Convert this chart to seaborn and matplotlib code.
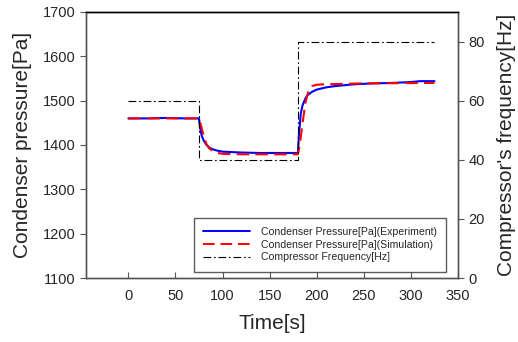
import numpy as np
import pandas as pd
import matplotlib
matplotlib.use("Agg")
import matplotlib.pyplot as plt
import seaborn as sns
from matplotlib.lines import Line2D

# ---- data ----
exp_time = [0, 20, 40, 60, 75, 76, 78, 80, 83, 86, 90, 95, 100, 110, 120, 140, 160, 180,
            181, 183, 185, 188, 190, 195, 200, 210, 220, 240, 260, 280, 300, 310, 325]
exp_pressure = [1460, 1460, 1461, 1460, 1460, 1440, 1420, 1410, 1400, 1394, 1390, 1387, 1385,
                1384, 1383, 1382, 1382, 1382, 1420, 1470, 1490, 1505, 1512, 1520, 1525, 1530,
                1533, 1537, 1539, 1540, 1542, 1544, 1544]

sim_time = [0, 75, 77, 80, 83, 86, 90, 95, 100, 120, 180, 182, 185, 188, 191, 195, 200,
            210, 250, 325]
sim_pressure = [1460, 1460, 1445, 1420, 1402, 1392, 1386, 1382, 1380, 1379, 1379, 1400,
                1450, 1495, 1520, 1533, 1536, 1537, 1539, 1540]

freq_time = [0, 75, 75, 180, 180, 325]
freq_value = [60, 60, 40, 40, 80, 80]

x_ticks = [0, 50, 100, 150, 200, 250, 300, 350]
y_ticks = [1100, 1200, 1300, 1400, 1500, 1600, 1700]
y2_ticks = [0, 20, 40, 60, 80]

sns.set_style("ticks")
plt.rcParams['font.family'] = ['Liberation Sans', 'DejaVu Sans']

fig = plt.figure(figsize=(5.18, 3.42), dpi=100)
ax = fig.add_axes([86/518, 1 - 278/342, (458-86)/518, (278-12)/342])
ax2 = ax.twinx()

df_exp = pd.DataFrame({"t": exp_time, "p": exp_pressure})
df_sim = pd.DataFrame({"t": sim_time, "p": sim_pressure})
df_f = pd.DataFrame({"t": freq_time, "f": freq_value})

sns.lineplot(data=df_exp, x="t", y="p", ax=ax, color="#0000ff", lw=1.5, sort=False,
             estimator=None)
sns.lineplot(data=df_sim, x="t", y="p", ax=ax, color="#ff0000", lw=1.5, sort=False,
             estimator=None, linestyle=(0, (6, 3)))
sns.lineplot(data=df_f, x="t", y="f", ax=ax2, color="black", lw=0.8, sort=False,
             estimator=None, linestyle=(0, (7, 2.5, 1.5, 2.5)))

ax.set_xlim(-45, 350)
ax.set_ylim(1100, 1700)
ax2.set_ylim(0, 90)
ax.set_xticks(x_ticks)
ax.set_yticks(y_ticks)
ax2.set_yticks(y2_ticks)

ax.set_xlabel("Time[s]", fontsize=15, labelpad=8)
ax.set_ylabel("Condenser pressure[Pa]", fontsize=15, labelpad=8)
ax2.set_ylabel("Compressor's frequency[Hz]", fontsize=15, labelpad=9)

ax.tick_params(axis='x', direction='in', length=4, labelsize=10.5, pad=8, color='#555555')
ax.tick_params(axis='y', direction='out', length=4, labelsize=10.5, color='#555555')
ax2.tick_params(axis='y', direction='out', length=4, labelsize=10.5, color='#555555')

for a in (ax, ax2):
    for s in ['left', 'bottom', 'right']:
        a.spines[s].set_color('#555555')
        a.spines[s].set_linewidth(1.0)
    a.spines['top'].set_color('black')
    a.spines['top'].set_linewidth(1.0)

handles = [
    Line2D([], [], color="#0000ff", lw=1.4),
    Line2D([], [], color="#ff0000", lw=1.4, linestyle=(0, (6, 3))),
    Line2D([], [], color="black", lw=0.8, linestyle=(0, (7, 2.5, 1.5, 2.5))),
]
labels = ["Condenser Pressure[Pa](Experiment)",
          "Condenser Pressure[Pa](Simulation)",
          "Compressor Frequency[Hz]"]
leg = ax2.legend(handles, labels, loc="lower right", bbox_to_anchor=(0.968, 0.023),
                 borderaxespad=0, fontsize=7.6, frameon=True, fancybox=False,
                 handlelength=4.4, handletextpad=1.05, labelspacing=0.25,
                 borderpad=0.9)
leg.get_frame().set_edgecolor('#333333')
leg.get_frame().set_linewidth(1.0)

fig.savefig("out.png", dpi=100)
